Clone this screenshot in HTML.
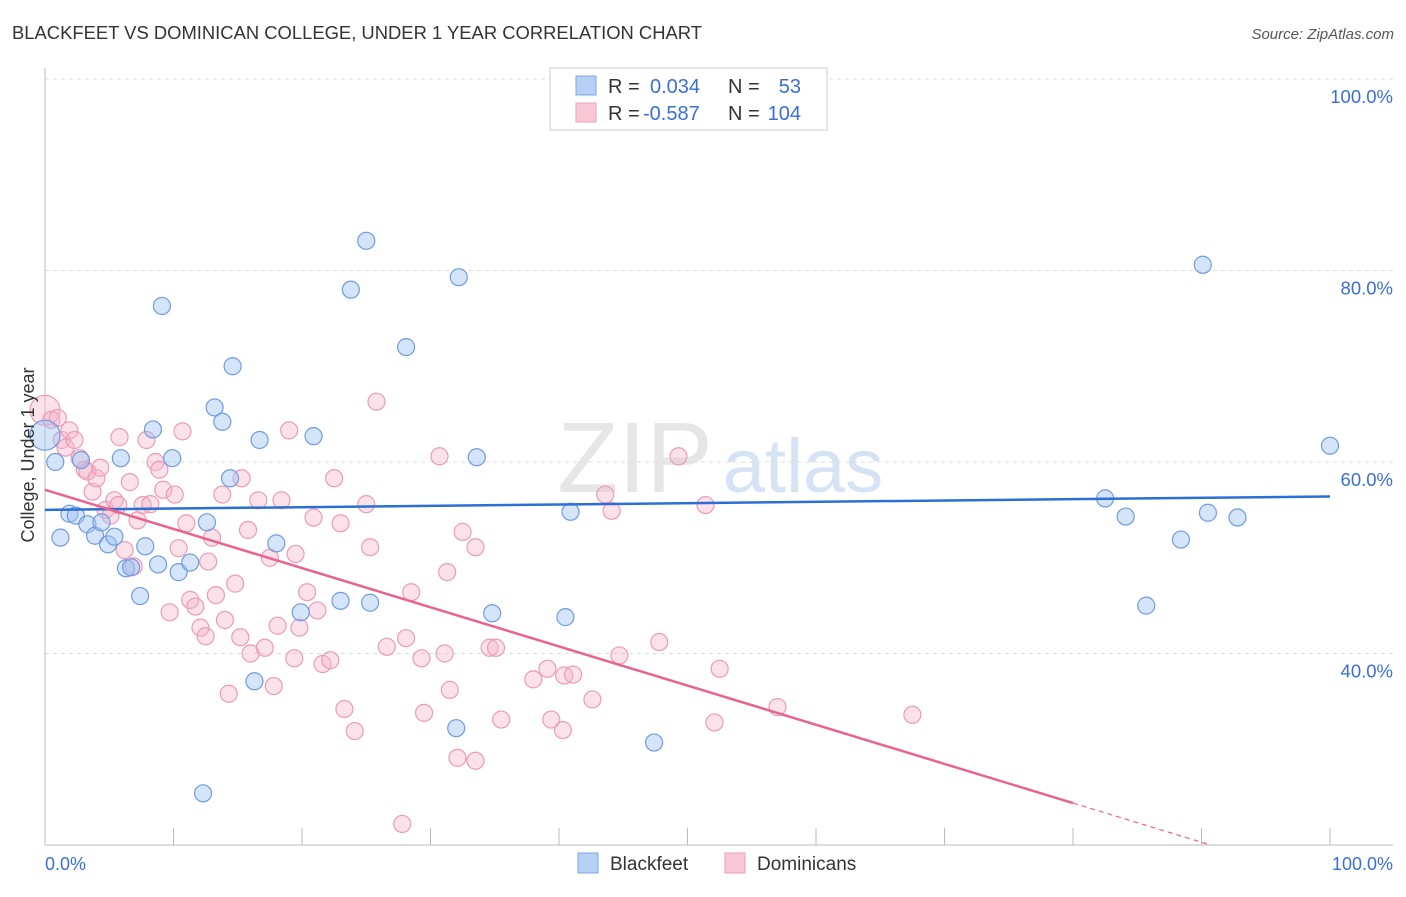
<!DOCTYPE html>
<html><head><meta charset="utf-8"><style>
body{margin:0;background:#fff;font-family:"Liberation Sans",sans-serif;}
svg text{font-family:"Liberation Sans",sans-serif;}
</style></head><body>
<svg id="chart" width="1406" height="892" xmlns="http://www.w3.org/2000/svg">
<text x="12" y="39" font-size="18" fill="#333" textLength="690" lengthAdjust="spacingAndGlyphs">BLACKFEET VS DOMINICAN COLLEGE, UNDER 1 YEAR CORRELATION CHART</text>
<text x="1394" y="39" font-size="15" fill="#555" text-anchor="end" font-style="italic">Source: ZipAtlas.com</text>
<g>
<text x="635" y="492" font-size="100" fill="#e6e6e6" font-family="Liberation Serif" text-anchor="middle">ZIP</text>
<text x="803" y="492" font-size="76" fill="#d6e3f4" text-anchor="middle">atlas</text>
</g>
<g id="grid"></g>
<g id="axes"></g>
<g id="pts"></g>
<g id="lines"></g>
<text transform="translate(34,455) rotate(-90)" font-size="18" fill="#333" text-anchor="middle">College, Under 1 year</text>
<text x="45" y="870" font-size="18" fill="#3a6fd8">0.0%</text>
<text x="1393" y="870" font-size="18" fill="#3a6fd8" text-anchor="end">100.0%</text>
<g>
<rect x="550" y="68" width="277" height="62" fill="#fff" stroke="#ccc"/>
<rect x="576" y="76" width="20" height="19" fill="#b7d0f5" stroke="#7fa6e4"/>
<rect x="576" y="103" width="20" height="19" fill="#f8c8d7" stroke="#ee9fb9"/>
<text x="608" y="93" font-size="20" fill="#333">R =</text>
<text x="650" y="93" font-size="20" fill="#3a6fd8">0.034</text>
<text x="728" y="93" font-size="20" fill="#333">N =</text>
<text x="801" y="93" font-size="20" fill="#3a6fd8" text-anchor="end">53</text>
<text x="608" y="120" font-size="20" fill="#333">R =</text>
<text x="643" y="120" font-size="20" fill="#3a6fd8">-0.587</text>
<text x="728" y="120" font-size="20" fill="#333">N =</text>
<text x="801" y="120" font-size="20" fill="#3a6fd8" text-anchor="end">104</text>
</g>
<g>
<rect x="578" y="853" width="20" height="20" fill="#b7d0f5" stroke="#7fa6e4"/>
<text x="610" y="870" font-size="19" fill="#333">Blackfeet</text>
<rect x="725" y="853" width="20" height="20" fill="#f8c8d7" stroke="#ee9fb9"/>
<text x="757" y="870" font-size="19" fill="#333">Dominicans</text>
</g>
</svg>
<script>
const yTicks=[100,80,60,40];
const yTickLabels=["100.0%","80.0%","60.0%","40.0%"];
const xTicks=[10,20,30,40,50,60,70,80,90,100];
const blueX=[0,0.8,1.2,1.9,2.4,2.8,3.3,3.9,4.4,4.9,5.4,5.9,6.3,6.7,7.4,7.8,8.4,8.8,9.1,9.9,10.4,11.3,12.6,12.3,13.2,13.8,14.4,14.6,16.3,16.7,18.0,19.9,20.9,23.0,23.8,25.0,25.3,28.1,32.0,32.2,33.6,34.8,40.5,40.9,47.4,82.5,84.1,85.7,88.4,90.1,90.5,92.8,100];
const blueY=[62.8,60.0,52.1,54.6,54.4,60.2,53.5,52.3,53.7,51.4,52.2,60.4,48.9,49.0,46.0,51.2,63.4,49.3,76.3,60.4,48.5,49.5,53.7,25.4,65.7,64.2,58.3,70.0,37.1,62.3,51.5,44.3,62.7,45.5,78.0,83.1,45.3,72.0,32.2,79.3,60.5,44.2,43.8,54.8,30.7,56.2,54.3,45.0,51.9,80.6,54.7,54.2,61.7];
const pinkX=[0,0.5,1.0,1.3,1.6,1.9,2.3,2.7,3.1,3.3,3.7,4.0,4.3,4.7,5.1,5.4,5.7,5.8,6.2,6.6,6.9,7.2,7.6,7.9,8.2,8.6,8.9,9.2,9.7,10.1,10.4,10.7,11.0,11.3,11.7,12.1,12.5,12.7,13.0,13.3,13.8,14.0,14.3,14.8,15.2,15.3,15.8,16.0,16.6,17.1,17.5,17.8,18.1,18.4,19.0,19.4,19.5,19.8,20.4,20.9,21.2,21.6,22.2,22.5,23.0,23.3,24.1,25.0,25.3,25.8,26.6,27.8,28.1,28.5,29.3,29.5,30.7,31.1,31.3,31.5,32.1,32.5,33.5,33.5,34.6,35.1,35.5,38.0,39.1,39.4,40.3,40.4,41.1,42.6,43.6,44.1,44.7,47.8,49.3,51.4,52.1,52.5,57.0,67.5];
const pinkY=[65.4,64.4,64.6,62.3,61.5,63.3,62.3,60.4,59.2,59.0,56.9,58.3,59.4,55.0,54.4,56.0,55.5,62.6,50.8,57.9,49.1,53.9,55.5,62.3,55.6,60.0,59.2,57.1,44.3,56.6,51.0,63.2,53.6,45.6,44.9,42.7,41.8,49.6,52.1,46.1,56.6,43.5,35.8,47.3,41.7,58.3,52.9,40.0,56.0,40.6,50.0,36.6,42.9,56.0,63.3,39.5,50.4,42.7,46.4,54.2,44.5,38.9,39.3,58.3,53.6,34.2,31.9,55.6,51.1,66.3,40.7,22.2,41.6,46.4,39.5,33.8,60.6,40.0,48.5,36.2,29.1,52.7,51.1,28.8,40.6,40.6,33.1,37.3,38.4,33.1,32.0,37.7,37.8,35.2,56.6,54.9,39.8,41.2,60.6,55.5,32.8,38.4,34.4,33.6];
const blueFit=[55.0,56.4];
const pinkFit=[57.1,-40.9];
const NS="http://www.w3.org/2000/svg";
const X0=45,X1=1330,Yt=79,PX=9.575;
const sx=v=>X0+(X1-X0)*v/100;
const sy=v=>Yt+(100-v)*PX;
function mk(tag,attrs,parent){const e=document.createElementNS(NS,tag);for(const k in attrs)e.setAttribute(k,attrs[k]);parent.appendChild(e);return e;}
const grid=document.getElementById('grid'),axes=document.getElementById('axes'),pts=document.getElementById('pts'),lines=document.getElementById('lines');
yTicks.forEach((t,i)=>{
 const l=mk('line',{x1:45,x2:1393,y1:sy(t),y2:sy(t),stroke:'#ddd','stroke-dasharray':'4,4'},grid);
 
 
 const tx=mk('text',{x:1393,y:sy(t)+24,'font-size':18.5,fill:'#3a6fd8','text-anchor':'end'},grid);
 tx.textContent=yTickLabels[i];
 
 
});
const ya=mk('line',{x1:45,x2:45,y1:68,y2:845,stroke:'#bbb'},axes);


const xa=mk('line',{x1:45,x2:1393,y1:845,y2:845,stroke:'#bbb'},axes);


xTicks.forEach(t=>{
 const l=mk('line',{x1:sx(t),x2:sx(t),y1:828,y2:845,stroke:'#bbb'},axes);
 
 
});
function dot(x,y,blue,big){
 const c=mk('circle',{cx:sx(x),cy:sy(y),r:big?15:8.5,fill:blue?'rgba(160,195,242,0.45)':'rgba(245,180,202,0.4)',stroke:blue?'#6f9be0':'#ec9bb6','stroke-width':1.2},pts);
 
 
}
pinkX.forEach((x,i)=>dot(x,pinkY[i],false,i==0));
blueX.forEach((x,i)=>dot(x,blueY[i],true,i==0));
const bl=mk('line',{x1:sx(0),y1:sy(blueFit[0]),x2:sx(100),y2:sy(blueFit[1]),stroke:'#2a6fd6','stroke-width':2.5},lines);


const pv=x=>pinkFit[0]+pinkFit[1]*x/100;
const pl=mk('line',{x1:sx(0),y1:sy(pv(0)),x2:sx(80),y2:sy(pv(80)),stroke:'#e8638f','stroke-width':2.5},lines);


const xe=(20-pinkFit[0])/pinkFit[1]*100;
const pd=mk('line',{x1:sx(80),y1:sy(pv(80)),x2:sx(xe),y2:sy(20),stroke:'#e8638f','stroke-width':1.2,'stroke-dasharray':'5,4'},lines);


</script>
</body></html>
